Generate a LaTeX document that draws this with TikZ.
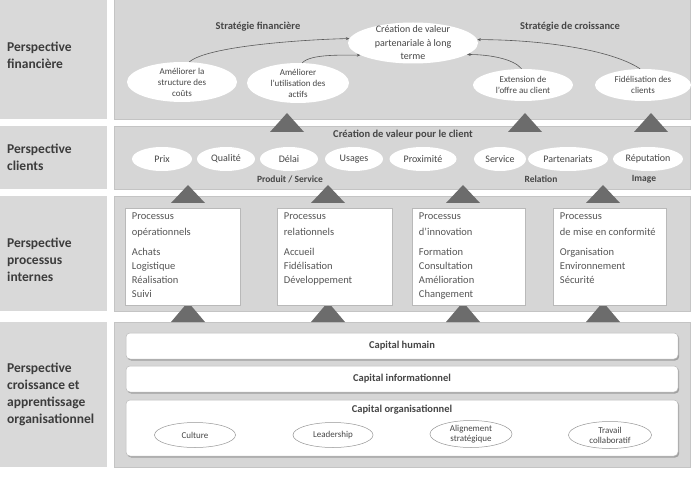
\documentclass[tikz,border=0pt]{standalone}
\usepackage{fontspec}
\setmainfont{Carlito}
\usetikzlibrary{shapes.geometric,arrows.meta}
\definecolor{panel}{RGB}{214,214,214}
\definecolor{panelb}{RGB}{196,196,196}
\definecolor{sidec}{RGB}{217,217,217}
\definecolor{tric}{RGB}{108,108,108}
\definecolor{labc}{RGB}{60,60,60}
\definecolor{txtc}{RGB}{70,70,70}
\definecolor{ptc}{RGB}{85,85,85}
\definecolor{arrc}{RGB}{90,90,90}
\definecolor{boxb}{RGB}{185,185,185}
\definecolor{shc}{RGB}{160,160,160}
\definecolor{elb}{RGB}{150,150,150}
\begin{document}
\begin{tikzpicture}[x=1pt,y=-1pt,
  lab/.style={font=\fontsize{13.5}{17}\selectfont\bfseries, text=labc, align=left, anchor=west, inner sep=0pt},
  pan/.style={fill=panel, draw=panelb, line width=0.6pt},
  side/.style={fill=sidec},
  wel/.style={ellipse, fill=white, inner xsep=0pt, inner ysep=0pt, align=center, text=txtc},
  e1/.style={wel, font=\fontsize{9}{11}\selectfont, inner ysep=-3pt},
  e2/.style={wel, font=\fontsize{10}{12}\selectfont, minimum height=24pt},
  e4/.style={wel, draw=elb, line width=0.5pt, font=\fontsize{9}{10}\selectfont, inner ysep=-1pt},
  ttl/.style={font=\fontsize{10.5}{12}\selectfont\bfseries, text=txtc, inner sep=0pt},
  tri/.style={fill=tric},
  arr/.style={draw=arrc, line width=0.6pt, -{Stealth[length=3.5pt,width=3pt]}},
  pbox/.style={draw=boxb, fill=white, line width=0.5pt, minimum width=115pt, minimum height=97pt, inner sep=0pt},
  ptxt/.style={font=\fontsize{10.5}{14}\selectfont, text=ptc, align=left, anchor=north west, inner sep=0pt, xshift=7pt, yshift=-5pt},
  bar/.style={draw=boxb, fill=white, line width=0.5pt, rounded corners=4pt, minimum width=552pt, inner sep=0pt,
     font=\fontsize{10.5}{12}\selectfont\bfseries, text=txtc,
     preaction={fill=shc, transform canvas={xshift=1.2pt,yshift=-1.5pt}}}
]
\useasboundingbox (0,0) rectangle (692,478);

% left column
\fill[side] (0,0) rectangle (107,119);
\fill[side] (0,126) rectangle (107,189);
\fill[side] (0,196) rectangle (107,311);
\fill[side] (0,322) rectangle (107,467);
\node[lab] (l1) at (7,55) {Perspective\\financière};
\node[lab] (l2) at (7,157) {Perspective\\clients};
\node[lab] (l3) at (7,260) {Perspective\\processus\\internes};
\node[lab] (l4) at (7,394) {Perspective\\croissance et\\apprentissage\\organisationnel};

% panels
\draw[pan] (114,-1) rectangle (690,119);
\draw[pan] (114,126) rectangle (690,189);
\draw[pan] (114,196) rectangle (690,311);
\draw[pan] (114,322) rectangle (690,467);

% triangles
\foreach \x in {287,525,651} {\fill[tri] (\x-17,132) -- (\x,113) -- (\x+17,132) -- cycle;}
\foreach \x in {188,328,463,603} {\fill[tri] (\x-17,203) -- (\x,185) -- (\x+17,203) -- cycle;}
\foreach \x in {188,328,463,603} {\fill[tri] (\x-17,322) -- (\x,302) -- (\x+17,322) -- cycle;}

% row 1
\node[ttl] (sf) at (258,27) {Stratégie financière};
\node[ttl] (sc) at (570,27) {Stratégie de croissance};
\node[wel, font=\fontsize{10}{13.5}\selectfont, inner ysep=-4.5pt, minimum width=130pt, minimum height=41pt] (cv) at (413,43) {Création de valeur\\partenariale à long\\terme};
\node[e1, minimum width=110pt, minimum height=40pt] (s1) at (182,82) {Améliorer la\\structure des\\coûts};
\node[e1, minimum width=102pt, minimum height=40pt] (s2) at (298,83) {Améliorer\\l'utilisation des\\actifs};
\node[e1, inner ysep=0pt, minimum width=100pt, minimum height=32pt] (s3) at (523,85) {Extension de\\l'offre au client};
\node[e1, inner ysep=0pt, minimum width=96pt, minimum height=32pt] (s4) at (643,85) {Fidélisation des\\clients};
\draw[arr] (s1.70) .. controls +(18,-16) and +(-45,1) .. (cv.176);
\draw[arr] (s2.78) .. controls +(8,-9) and +(-18,0) .. (cv.193);
\draw[arr] (s3.95) .. controls +(-8,-10) and +(22,0) .. (cv.-12);
\draw[arr] (s4.100) .. controls +(-30,-20) and +(60,0) .. (cv.3);

% row 2
\node[ttl] (cvc) at (403,135) {Création de valeur pour le client};
\node[e2, minimum width=60pt] (prix) at (162,159) {Prix};
\node[e2, minimum width=58pt] (qual) at (226,159) {Qualité};
\node[e2, minimum width=58pt] (delai) at (289,159) {Délai};
\node[e2, minimum width=58pt] (usag) at (354,159) {Usages};
\node[e2, minimum width=67pt] (prox) at (423,159) {Proximité};
\node[e2, minimum width=52pt] (serv) at (500,159) {Service};
\node[e2, minimum width=80pt] (part) at (568,159) {Partenariats};
\node[e2, minimum width=70pt] (rep) at (648,159) {Réputation};
\node[ttl, font=\fontsize{9.5}{11}\selectfont\bfseries] (ps) at (290,179) {Produit / Service};
\node[ttl, font=\fontsize{9.5}{11}\selectfont\bfseries] (rel) at (541,179) {Relation};
\node[ttl, font=\fontsize{9.5}{11}\selectfont\bfseries] (img) at (644,179) {Image};

% row 3
\node[pbox] (p1) at (182.5,256.5) {};
\node[pbox, minimum width=115pt] (p2) at (334.5,256.5) {};
\node[pbox, minimum width=113pt] (p3) at (468.5,256.5) {};
\node[pbox, minimum width=113pt] (p4) at (609.5,256.5) {};
\node[ptxt] (t1) at (p1.north west) {Processus\\[2pt]opérationnels\\[6pt]Achats\\Logistique\\Réalisation\\Suivi};
\node[ptxt] (t2) at (p2.north west) {Processus\\[2pt]relationnels\\[6pt]Accueil\\Fidélisation\\Développement};
\node[ptxt] (t3) at (p3.north west) {Processus\\[2pt]d'innovation\\[6pt]Formation\\Consultation\\Amélioration\\Changement};
\node[ptxt] (t4) at (p4.north west) {Processus\\[2pt]de mise en conformité\\[6pt]Organisation\\Environnement\\Sécurité};

% row 4
\node[bar, minimum height=26pt] (ch) at (402,346) {Capital humain};
\node[bar, minimum height=26pt] (ci) at (402,379) {Capital informationnel};
\node[bar, minimum height=56pt] (co) at (402,428) {};
\node[ttl] (cot) at (402,410) {Capital organisationnel};
\node[e4, minimum width=81pt, minimum height=25pt] (cul) at (195,435) {Culture};
\node[e4, minimum width=80pt, minimum height=25pt] (lead) at (333,435) {Leadership};
\node[e4, minimum width=82pt, minimum height=27pt] (ali) at (471,434) {Alignement\\stratégique};
\node[e4, minimum width=83pt, minimum height=27pt] (trav) at (610,435) {Travail\\collaboratif};
\end{tikzpicture}
\end{document}
